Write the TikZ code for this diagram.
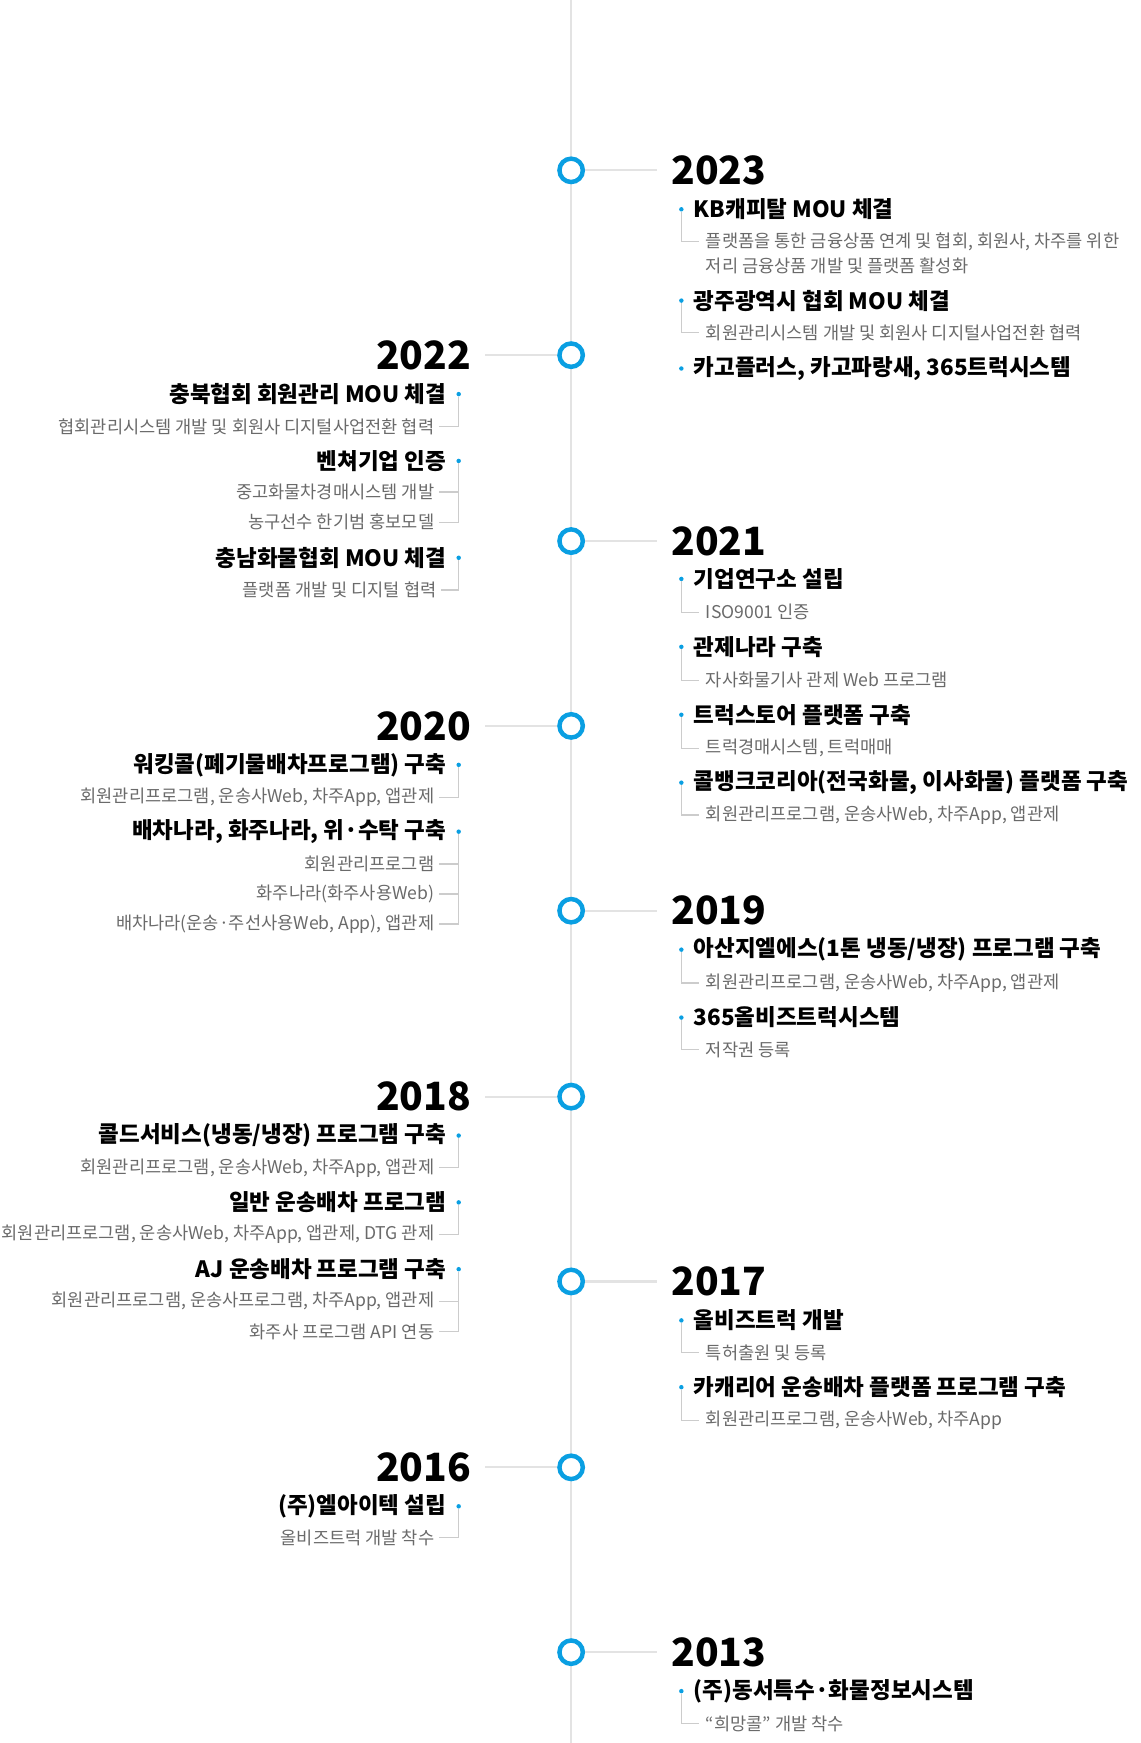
\documentclass[tikz,border=0pt]{standalone}
\usepackage{fontspec}
\setmainfont{Noto Sans CJK KR}
\usepackage{tikz}
\definecolor{tlblue}{HTML}{0A9FE2}
\definecolor{tlspine}{HTML}{E3E3E3}
\definecolor{tlgrey}{HTML}{6A6A6A}
\definecolor{tllead}{HTML}{CCCCCC}

\begin{document}
\begin{tikzpicture}[x=1pt, y=-1pt,
  spine/.style={tlspine, line width=2pt},
  ring/.style={circle, draw=tlblue, fill=white, line width=4pt, minimum size=21pt, inner sep=0pt},
  tick/.style={tlspine, line width=2pt},
  lead/.style={tllead, line width=1.1pt},
  bul/.style={circle, fill=tlblue, inner sep=0pt, minimum size=4pt},
  yearR/.style={anchor=west, inner sep=0pt, outer xsep=13pt, font=\fontsize{35}{35}\selectfont\bfseries},
  yearL/.style={yearR, anchor=east},
  ttlR/.style={anchor=west, inner sep=0pt, font=\fontsize{20.2}{20.2}\selectfont\bfseries},
  ttlL/.style={ttlR, anchor=east},
  subR/.style={anchor=west, inner sep=0pt, outer xsep=6pt, text=tlgrey, font=\fontsize{15.8}{15.8}\selectfont},
  subL/.style={subR, anchor=east, outer xsep=4pt}]
\useasboundingbox (0,0) rectangle (1024,1565.6);

% time line
\coordinate (top) at (513,0);
\coordinate (bot) at (513,1565.6);
\draw[spine] (top)--(bot);
\foreach \yr/\y in {2023/153,2022/319,2021/486,2020/652,2019/818,2018/985,2017/1151,2016/1318,2013/1484}
  \node[ring] (c\yr) at (513,\y) {};

% years
\node[yearR] (y2023) at (590,153) {2023};
\node[yearL] (y2022) at (436,319) {2022};
\node[yearR] (y2021) at (590,486) {2021};
\node[yearL] (y2020) at (436,652) {2020};
\node[yearR] (y2019) at (590,818) {2019};
\node[yearL] (y2018) at (436,985) {2018};
\node[yearR] (y2017) at (590,1151) {2017};
\node[yearL] (y2016) at (436,1318) {2016};
\node[yearR] (y2013) at (590,1484) {2013};
\foreach \yr in {2023,2021,2019,2017,2013} \draw[tick] (c\yr)--(y\yr.west);
\foreach \yr in {2022,2020,2018,2016} \draw[tick] (y\yr.east)--(c\yr);

% 2023
\node[bul] (b23a) at (612,188) {};
\node[ttlR] (t23a) at (623,188) {KB캐피탈 MOU 체결};
\node[subR] (s23a) at (628,217) {플랫폼을 통한 금융상품 연계 및 협회, 회원사, 차주를 위한};
\node[subR] (s23a2) at (628,239) {저리 금융상품 개발 및 플랫폼 활성화};
\draw[lead] (b23a) |- (s23a.west);
\node[bul] (b23b) at (612,270) {};
\node[ttlR] (t23b) at (623,270) {광주광역시 협회 MOU 체결};
\node[subR] (s23b) at (628,299) {회원관리시스템 개발 및 회원사 디지털사업전환 협력};
\draw[lead] (b23b) |- (s23b.west);
\node[bul] (b23c) at (612,331) {};
\node[ttlR] (t23c) at (623,331) {카고플러스, 카고파랑새, 365트럭시스템};

% 2022
\node[bul] (b22a) at (412,354) {};
\node[ttlL] (t22a) at (401,354) {충북협회 회원관리 MOU 체결};
\node[subL] (s22a) at (394,383) {협회관리시스템 개발 및 회원사 디지털사업전환 협력};
\draw[lead] (b22a) |- (s22a.east);
\node[bul] (b22b) at (412,414) {};
\node[ttlL] (t22b) at (401,414) {벤쳐기업 인증};
\node[subL] (s22b1) at (394,442) {중고화물차경매시스템 개발};
\node[subL] (s22b2) at (394,469) {농구선수 한기범 홍보모델};
\draw[lead] (b22b) |- (s22b1.east);
\draw[lead] (b22b) |- (s22b2.east);
\node[bul] (b22c) at (412,501) {};
\node[ttlL] (t22c) at (401,501) {충남화물협회 MOU 체결};
\node[subL] (s22c) at (396,530) {플랫폼 개발 및 디지털 협력};
\draw[lead] (b22c) |- (s22c.east);

% 2021
\node[bul] (b21a) at (612,520) {};
\node[ttlR] (t21a) at (623,520) {기업연구소 설립};
\node[subR] (s21a) at (628,550) {ISO9001 인증};
\draw[lead] (b21a) |- (s21a.west);
\node[bul] (b21b) at (612,581) {};
\node[ttlR] (t21b) at (623,581) {관제나라 구축};
\node[subR] (s21b) at (628,611) {자사화물기사 관제 Web 프로그램};
\draw[lead] (b21b) |- (s21b.west);
\node[bul] (b21c) at (612,642) {};
\node[ttlR] (t21c) at (623,642) {트럭스토어 플랫폼 구축};
\node[subR] (s21c) at (628,672) {트럭경매시스템, 트럭매매};
\draw[lead] (b21c) |- (s21c.west);
\node[bul] (b21d) at (612,703) {};
\node[ttlR] (t21d) at (623,703) {콜뱅크코리아(전국화물, 이사화물) 플랫폼 구축};
\node[subR] (s21d) at (628,732) {회원관리프로그램, 운송사Web, 차주App, 앱관제};
\draw[lead] (b21d) |- (s21d.west);

% 2020
\node[bul] (b20a) at (412,687) {};
\node[ttlL] (t20a) at (401,687) {워킹콜(폐기물배차프로그램) 구축};
\node[subL] (s20a) at (394,716) {회원관리프로그램, 운송사Web, 차주App, 앱관제};
\draw[lead] (b20a) |- (s20a.east);
\node[bul] (b20b) at (412,747) {};
\node[ttlL] (t20b) at (401,747) {배차나라, 화주나라, 위·수탁 구축};
\node[subL] (s20b1) at (394,776) {회원관리프로그램};
\node[subL] (s20b2) at (394,803) {화주나라(화주사용Web)};
\node[subL] (s20b3) at (394,830) {배차나라(운송·주선사용Web, App), 앱관제};
\foreach \k in {1,2,3} \draw[lead] (b20b) |- (s20b\k.east);

% 2019
\node[bul] (b19a) at (612,853) {};
\node[ttlR] (t19a) at (623,853) {아산지엘에스(1톤 냉동/냉장) 프로그램 구축};
\node[subR] (s19a) at (628,883) {회원관리프로그램, 운송사Web, 차주App, 앱관제};
\draw[lead] (b19a) |- (s19a.west);
\node[bul] (b19b) at (612,914) {};
\node[ttlR] (t19b) at (623,914) {365올비즈트럭시스템};
\node[subR] (s19b) at (628,943) {저작권 등록};
\draw[lead] (b19b) |- (s19b.west);

% 2018
\node[bul] (b18a) at (412,1020) {};
\node[ttlL] (t18a) at (401,1020) {콜드서비스(냉동/냉장) 프로그램 구축};
\node[subL] (s18a) at (394,1049) {회원관리프로그램, 운송사Web, 차주App, 앱관제};
\draw[lead] (b18a) |- (s18a.east);
\node[bul] (b18b) at (412,1080) {};
\node[ttlL] (t18b) at (401,1080) {일반 운송배차 프로그램};
\node[subL] (s18b) at (394,1109) {회원관리프로그램, 운송사Web, 차주App, 앱관제, DTG 관제};
\draw[lead] (b18b) |- (s18b.east);
\node[bul] (b18c) at (412,1140) {};
\node[ttlL] (t18c) at (401,1140) {AJ 운송배차 프로그램 구축};
\node[subL] (s18c1) at (394,1169) {회원관리프로그램, 운송사프로그램, 차주App, 앱관제};
\node[subL] (s18c2) at (394,1196) {화주사 프로그램 API 연동};
\draw[lead] (b18c) |- (s18c1.east);
\draw[lead] (b18c) |- (s18c2.east);

% 2017
\node[bul] (b17a) at (612,1186) {};
\node[ttlR] (t17a) at (623,1186) {올비즈트럭 개발};
\node[subR] (s17a) at (628,1215) {특허출원 및 등록};
\draw[lead] (b17a) |- (s17a.west);
\node[bul] (b17b) at (612,1246) {};
\node[ttlR] (t17b) at (623,1246) {카캐리어 운송배차 플랫폼 프로그램 구축};
\node[subR] (s17b) at (628,1276) {회원관리프로그램, 운송사Web, 차주App};
\draw[lead] (b17b) |- (s17b.west);

% 2016
\node[bul] (b16a) at (412,1353) {};
\node[ttlL] (t16a) at (401,1353) {(주)엘아이텍 설립};
\node[subL] (s16a) at (394,1381) {올비즈트럭 개발 착수};
\draw[lead] (b16a) |- (s16a.east);

% 2013
\node[bul] (b13a) at (612,1519) {};
\node[ttlR] (t13a) at (623,1519) {(주)동서특수·화물정보시스템};
\node[subR] (s13a) at (628,1548) {“희망콜” 개발 착수};
\draw[lead] (b13a) |- (s13a.west);
\end{tikzpicture}
\end{document}
